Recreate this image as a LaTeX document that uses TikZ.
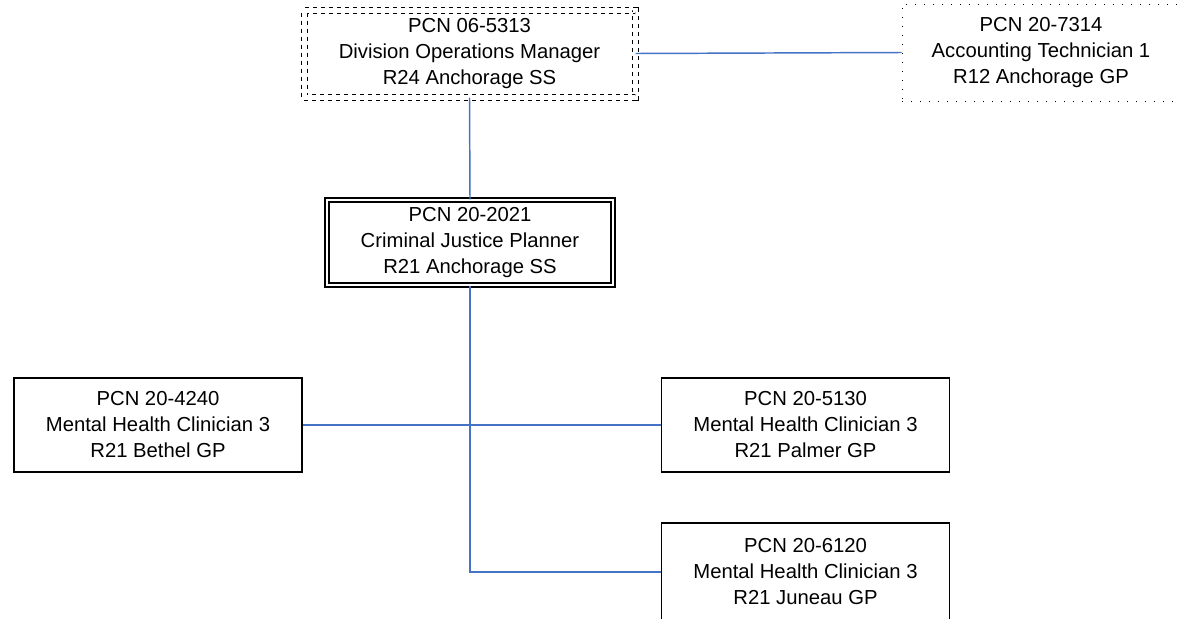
\documentclass[tikz,border=0pt]{standalone}
\usepackage{fontspec}
\setmainfont{Liberation Sans}
\usepackage{tikz}
\definecolor{linkblue}{HTML}{4472C4}

\begin{document}
\begin{tikzpicture}[x=0.75pt, y=-0.75pt,
        every node/.style={align=center, inner sep=0pt, font=\fontsize{15.2}{19.5}\selectfont},
        posbox/.style={draw, line width=1.1pt, minimum width=216pt, minimum height=70.5pt},
        link/.style={draw=linkblue, line width=1.1pt}]
        \useasboundingbox (0, 0) rectangle (1178, 618);

        % Top row
        \node[draw, dashed, double, line width=0.75pt, double distance=3.75pt,
              minimum width=248.25pt, minimum height=65.25pt] (mgr) at (469.5, 53.5)
              {PCN 06-5313\\Division Operations Manager\\R24 Anchorage SS};
        \node[draw, line width=0.75pt, dash pattern=on 0.9pt off 5.85pt,
              minimum width=208.5pt, minimum height=72.75pt] (acct) at (1041, 52.5)
              {PCN 20-7314\\Accounting Technician 1\\R12 Anchorage GP};

        % Planner
        \node[draw, double, line width=1.1pt, double distance=1.9pt,
              minimum width=214.5pt, minimum height=63.75pt] (cjp) at (470, 242.5)
              {PCN 20-2021\\Criminal Justice Planner\\R21 Anchorage SS};

        % Clinicians
        \node[posbox] (mhc1) at (158, 425) {PCN 20-4240\\Mental Health Clinician 3\\R21 Bethel GP};
        \node[posbox] (mhc2) at (805.5, 425) {PCN 20-5130\\Mental Health Clinician 3\\R21 Palmer GP};
        \node[posbox, minimum height=73.5pt] (mhc3) at (805.5, 572) {PCN 20-6120\\Mental Health Clinician 3\\R21 Juneau GP};

        % Links
        \draw[link] (mgr.east) -- (acct.west);
        \draw[link] (mgr.south) -- (cjp.north);
        \draw[link] (mhc1.east) -- (mhc2.west);
        \draw[link] (cjp.south) |- (mhc3.west);
    \end{tikzpicture}
\end{document}
